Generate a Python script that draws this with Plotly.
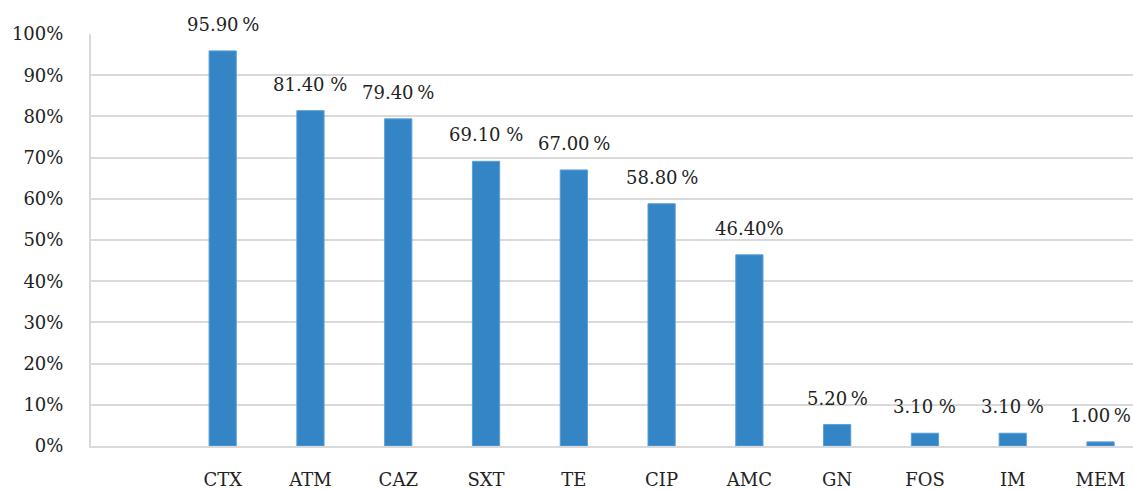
import plotly.graph_objects as go

categories = ["CTX", "ATM", "CAZ", "SXT", "TE", "CIP", "AMC", "GN", "FOS", "IM", "MEM"]
values = [95.9, 81.4, 79.4, 69.1, 67.0, 58.8, 46.4, 5.2, 3.1, 3.1, 1.0]
labels = ["95.90\u2009%", "81.40 %", "79.40\u2009%", "69.10 %", "67.00\u2009%", "58.80\u2009%",
          "46.40%", "5.20\u2009%", "3.10 %", "3.10 %", "1.00\u2009%"]
y_ticks = [0, 10, 20, 30, 40, 50, 60, 70, 80, 90, 100]
y_tick_text = ["0%", "10%", "20%", "30%", "40%", "50%", "60%", "70%", "80%", "90%", "100%"]

FONT = "DejaVu Serif"
GRID = "#d9d9d9"
TXT = "#222222"

fig = go.Figure()
fig.add_trace(go.Bar(
    x=categories, y=values,
    marker=dict(color="#3385c6", line=dict(color="#5a9fd6", width=1)),
    width=0.31,
    hoverinfo="skip",
))

for c, v, t in zip(categories, values, labels):
    fig.add_annotation(x=c, y=v, text=t, showarrow=False, yanchor="bottom",
                       yshift=14, font=dict(family=FONT, size=18, color=TXT))

fig.update_layout(
    width=1133, height=490,
    margin=dict(l=91, r=0, t=34, b=44),
    paper_bgcolor="white", plot_bgcolor="white",
    showlegend=False,
    font=dict(family=FONT, size=18, color=TXT),
    xaxis=dict(
        type="category", range=[-1.5, 10.37], automargin=False,
        showgrid=False, showline=True, linecolor=GRID, linewidth=2,
        ticks="", ticklabelstandoff=16,
        tickfont=dict(family=FONT, size=18, color=TXT),
    ),
    yaxis=dict(
        range=[0, 100], tickvals=y_ticks, ticktext=y_tick_text, automargin=False,
        showgrid=True, gridcolor=GRID, gridwidth=2,
        showline=True, linecolor=GRID, linewidth=2,
        zeroline=False, ticks="", ticklabelstandoff=22,
        tickfont=dict(family=FONT, size=18, color=TXT),
    ),
)

fig.write_html(
    "out.html",
    config={"displayModeBar": False},
    post_script="document.body.style.margin='0';document.body.style.overflow='hidden';",
)
